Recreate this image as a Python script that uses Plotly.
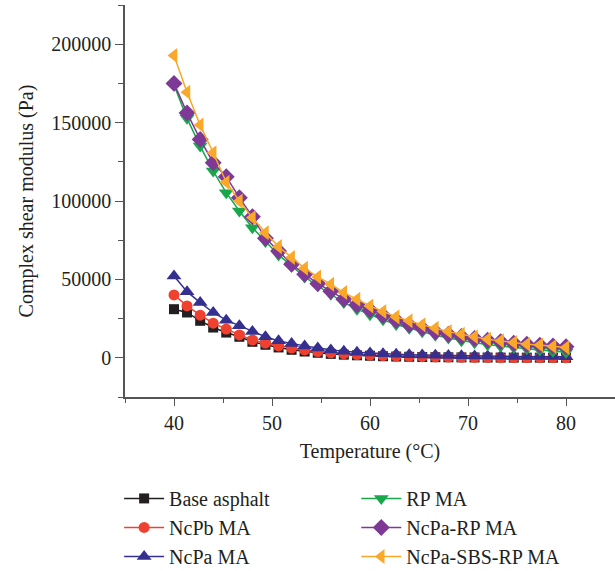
import plotly.graph_objects as go

temperature = [40.0, 41.33, 42.67, 44.0, 45.33, 46.67, 48.0, 49.33, 50.67, 52.0,
               53.33, 54.67, 56.0, 57.33, 58.67, 60.0, 61.33, 62.67, 64.0, 65.33,
               66.67, 68.0, 69.33, 70.67, 72.0, 73.33, 74.67, 76.0, 77.33, 78.67, 80.0]

base_asphalt = [31000, 28900, 23600, 19300, 16100, 13400, 10200, 8300, 6600, 5100,
                4000, 3200, 2500, 2000, 1600, 1300, 1000, 800, 650, 500,
                400, 330, 270, 220, 180, 150, 120, 100, 80, 70, 60]
ncpb_ma = [40100, 33100, 27200, 22100, 18300, 14600, 11300, 9400, 7600, 6200,
           5000, 4000, 3200, 2600, 2100, 1700, 1400, 1100, 900, 700,
           550, 450, 350, 300, 250, 200, 180, 160, 140, 120, 100]
ncpa_ma = [52200, 42200, 35200, 28900, 24000, 20400, 16800, 13400, 10800, 9100,
           7600, 6200, 5000, 4100, 3500, 3000, 2600, 2300, 2000, 1800,
           1600, 1400, 1300, 1200, 1100, 1000, 900, 850, 800, 750, 700]
rp_ma = [174000, 152700, 135000, 119100, 105300, 93600, 83000, 74100, 65600, 58600,
         51600, 45900, 40500, 35200, 31000, 27500, 24200, 21200, 18800, 16600,
         14400, 12600, 10900, 9600, 8400, 7400, 6500, 5700, 4900, 4200, 3600]
ncpa_rp_ma = [175000, 156200, 139300, 124400, 115500, 102100, 90000, 76200, 68100, 59700,
              53300, 47300, 42500, 37400, 33800, 30500, 27000, 23900, 21000, 18900,
              16600, 15000, 13600, 12300, 11200, 10200, 9300, 8600, 8000, 7500, 7000]
ncpa_sbs_rp_ma = [192800, 169400, 148400, 130800, 112000, 100000, 89400, 79800, 70900, 63900,
                  57100, 51600, 46900, 41600, 37400, 33100, 29500, 26100, 23600, 21000,
                  18900, 16700, 15000, 13400, 11900, 10800, 9700, 8700, 8100, 7200, 6600]

series = [
    ("Base asphalt", base_asphalt, "#231f20", "square", 10, "legend"),
    ("NcPb MA", ncpb_ma, "#ef4130", "circle", 11, "legend"),
    ("NcPa MA", ncpa_ma, "#35308f", "triangle-up", 13, "legend"),
    ("RP MA", rp_ma, "#18a84b", "triangle-down", 13, "legend2"),
    ("NcPa-RP MA", ncpa_rp_ma, "#7d3995", "diamond", 13, "legend2"),
    ("NcPa-SBS-RP MA", ncpa_sbs_rp_ma, "#f9a82a", "triangle-left", 13, "legend2"),
]

FONT = "Liberation Serif"
TXT = "#231f20"

fig = go.Figure()
for name, vals, color, sym, size, leg in series:
    fig.add_trace(go.Scatter(
        x=temperature, y=vals, name=name, mode="lines+markers",
        line=dict(color=color, width=1.5),
        marker=dict(symbol=sym, size=size, color=color, line=dict(width=0)),
        legend=leg, legendgroup=name,
    ))

axis_common = dict(
    showline=True, linecolor="#555555", linewidth=1.5, mirror=False,
    ticks="outside", tickcolor="#555555", tickwidth=1.2,
    showgrid=False, zeroline=False, automargin=False,
    tickfont=dict(family=FONT, size=20, color=TXT),
)

fig.update_layout(
    width=615, height=571,
    margin=dict(l=125, r=0, t=5, b=174, autoexpand=False),
    paper_bgcolor="white", plot_bgcolor="white",
    font=dict(family=FONT, size=20, color=TXT),
    xaxis=dict(range=[35, 85], dtick=10, tick0=0, ticklen=7,
               minor=dict(ticks="outside", dtick=5, ticklen=4, tickcolor="#555555"),
               title=dict(text="Temperature (°C)", font=dict(family=FONT, size=20, color=TXT), standoff=11),
               **axis_common),
    yaxis=dict(range=[-25000, 225000], dtick=50000, tick0=0, ticklen=8, tickformat="d",
               minor=dict(ticks="outside", dtick=25000, ticklen=5, tickcolor="#555555"),
               title=dict(text="Complex shear modulus (Pa)", font=dict(family=FONT, size=20, color=TXT), standoff=12),
               **axis_common),
    legend=dict(x=-0.012, y=-0.209, xanchor="left", yanchor="top", orientation="v",
                font=dict(family=FONT, size=20, color=TXT), bgcolor="rgba(0,0,0,0)",
                itemwidth=40, tracegroupgap=0),
    legend2=dict(x=0.472, y=-0.209, xanchor="left", yanchor="top", orientation="v",
                 font=dict(family=FONT, size=20, color=TXT), bgcolor="rgba(0,0,0,0)",
                 itemwidth=40, tracegroupgap=0),
)

fig.write_html("out.html")
